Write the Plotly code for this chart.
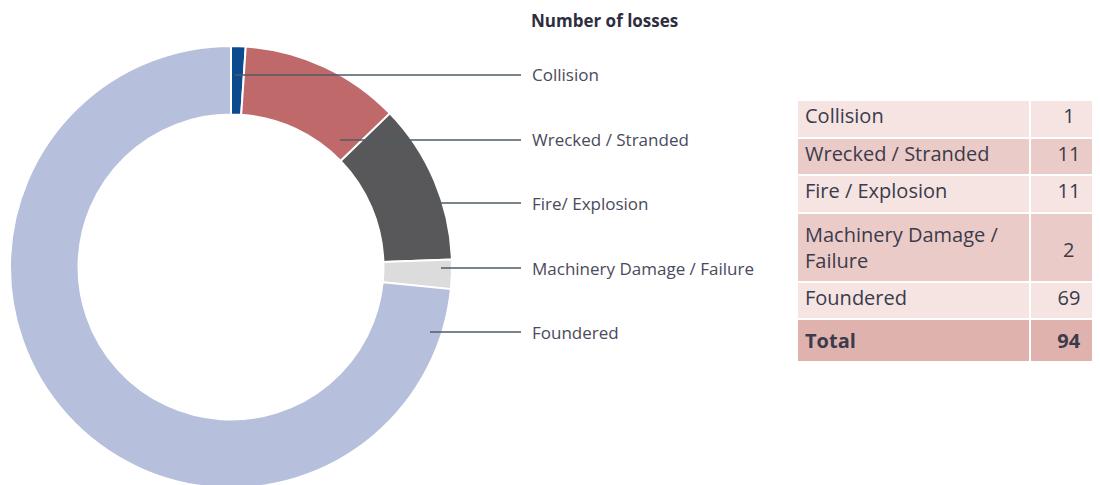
import plotly.graph_objects as go

# ---- data ----
categories = ["Collision", "Wrecked / Stranded", "Fire/ Explosion", "Machinery Damage / Failure", "Foundered"]
table_labels = ["Collision", "Wrecked / Stranded", "Fire / Explosion", "Machinery Damage /<br>Failure", "Foundered", "<b>Total</b>"]
losses = [1, 11, 11, 2, 69]
total = sum(losses)
slice_colors = ["#0b4a8f", "#c0696b", "#58585a", "#dcdcdc", "#b6bfdc"]
title_text = "Number of losses"

W, H = 1100, 485
OFF = 8  # page body margin

def px(x):
    return (x - OFF) / W

def py(y):
    return 1 - (y - OFF) / H

fig = go.Figure()

# donut
fig.add_trace(go.Pie(
    labels=categories,
    values=losses,
    hole=0.69,
    sort=False,
    direction="clockwise",
    rotation=0,
    textinfo="none",
    hoverinfo="label+value",
    marker=dict(colors=slice_colors, line=dict(color="white", width=2)),
    domain=dict(x=[px(10), px(452)], y=[py(488), py(46)]),
    showlegend=False,
))

# table
text_color = "#3b3b4b"
row_fill = ["#f5e4e2", "#ebcbc8", "#f5e4e2", "#ebcbc8", "#f5e4e2", "#e0b2ae"]
values_col = [str(v) for v in losses] + ["<b>%d</b>" % total]
# the two-line row's number is drawn vertically centred by an annotation below
two_line = [i for i, t in enumerate(table_labels) if "<br>" in t]
cell_values = ["" if i in two_line else v for i, v in enumerate(values_col)]
fig.add_trace(go.Table(
    domain=dict(x=[px(797), 1.0], y=[py(400), py(100)]),
    columnwidth=[233, 78],
    header=dict(values=["", ""], height=0, fill_color="rgba(0,0,0,0)",
                line=dict(width=0), font=dict(size=1)),
    cells=dict(
        values=[table_labels, cell_values],
        fill_color=[row_fill, row_fill],
        line=dict(color="white", width=2),
        align=["left", "center"],
        height=37.5,
        font=dict(family="Open Sans", size=20, color=text_color),
    ),
))
for i in two_line:
    fig.add_annotation(x=px(1068), y=py(249), xref="paper", yref="paper",
                       text=values_col[i], showarrow=False,
                       xanchor="center", yanchor="middle",
                       font=dict(family="Open Sans", size=20, color=text_color))

# leader lines & labels (layout decorations)
leader_y = [75, 140, 203, 268, 332]
leader_x0 = [235, 340, 433, 441, 430]
for name, y, x0 in zip(categories, leader_y, leader_x0):
    fig.add_shape(type="line", xref="paper", yref="paper",
                  x0=px(x0), x1=px(521), y0=py(y), y1=py(y),
                  line=dict(color="#4d5c63", width=1.5))
    fig.add_annotation(x=px(530), y=py(y), xref="paper", yref="paper",
                       text=name, showarrow=False, xanchor="left", yanchor="middle",
                       font=dict(family="Open Sans", size=17, color="#4a4a5c"))

fig.add_annotation(x=px(529), y=py(20), xref="paper", yref="paper",
                   text="<b>%s</b>" % title_text, showarrow=False,
                   xanchor="left", yanchor="middle",
                   font=dict(family="Open Sans", size=17, color="#2e2e3e"))

fig.update_layout(
    width=W, height=H,
    margin=dict(l=0, r=0, t=0, b=0),
    paper_bgcolor="white",
    plot_bgcolor="white",
)

fig.write_html("out.html")
